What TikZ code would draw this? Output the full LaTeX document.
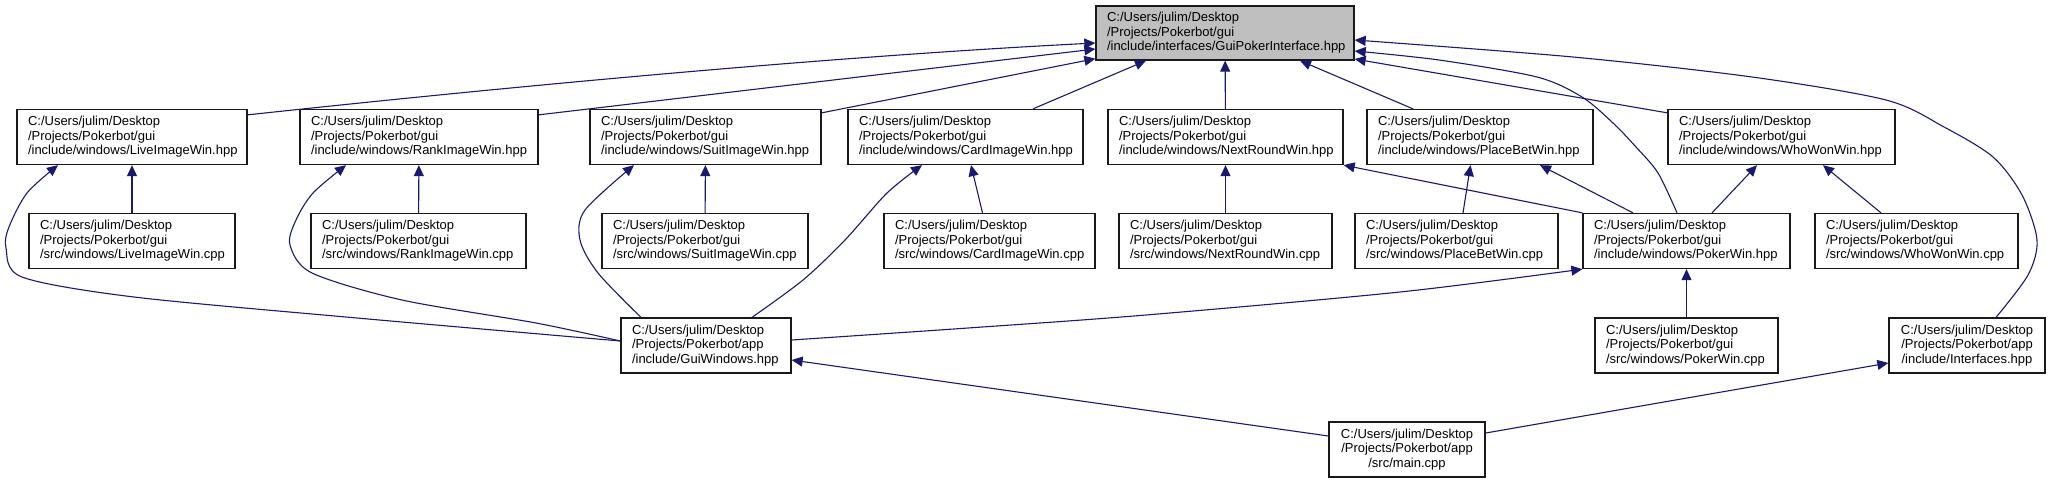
\documentclass[tikz,border=0pt]{standalone}
\usepackage{fontspec}
\setmainfont{Liberation Sans}
\usetikzlibrary{arrows.meta,calc}
\definecolor{edgecol}{RGB}{25,25,112}
\definecolor{hdrfill}{RGB}{191,191,191}
\begin{document}
\begin{tikzpicture}[x=0.5pt,y=-0.5pt,
  box/.style={draw=black!90, line width=0.65pt, fill=white, font=\fontsize{6.5}{7.25}\selectfont, align=left, inner xsep=5.5pt, inner ysep=0pt, minimum height=27.5pt},
  cbox/.style={box, align=center},
  edge/.style={draw=edgecol, line width=0.55pt, -{Triangle[length=5.5pt,width=5pt]}}]
\useasboundingbox (0,0) rectangle (2050,483);

% row 0
\node[box, text width=118pt, fill=hdrfill, minimum height=27pt] (gpi) at (1225,33) {C:/Users/julim/Desktop\\/Projects/Pokerbot/gui\\/include/interfaces/GuiPokerInterface.hpp};
% row 1
\node[box, text width=104pt] (live) at (132,137) {C:/Users/julim/Desktop\\/Projects/Pokerbot/gui\\/include/windows/LiveImageWin.hpp};
\node[box, text width=108pt] (rank) at (419,137) {C:/Users/julim/Desktop\\/Projects/Pokerbot/gui\\/include/windows/RankImageWin.hpp};
\node[box, text width=104.5pt] (suit) at (705.5,137) {C:/Users/julim/Desktop\\/Projects/Pokerbot/gui\\/include/windows/SuitImageWin.hpp};
\node[box, text width=106.5pt] (card) at (965.5,137) {C:/Users/julim/Desktop\\/Projects/Pokerbot/gui\\/include/windows/CardImageWin.hpp};
\node[box, text width=106.5pt] (next) at (1225.5,137) {C:/Users/julim/Desktop\\/Projects/Pokerbot/gui\\/include/windows/NextRoundWin.hpp};
\node[box, text width=102pt] (place) at (1480,137) {C:/Users/julim/Desktop\\/Projects/Pokerbot/gui\\/include/windows/PlaceBetWin.hpp};
\node[box, text width=102.5pt] (who) at (1781.5,137) {C:/Users/julim/Desktop\\/Projects/Pokerbot/gui\\/include/windows/WhoWonWin.hpp};
% row 2
\node[box, text width=92pt] (livecpp) at (132,241) {C:/Users/julim/Desktop\\/Projects/Pokerbot/gui\\/src/windows/LiveImageWin.cpp};
\node[box, text width=96.5pt] (rankcpp) at (418.5,241) {C:/Users/julim/Desktop\\/Projects/Pokerbot/gui\\/src/windows/RankImageWin.cpp};
\node[box, text width=92pt] (suitcpp) at (705,241) {C:/Users/julim/Desktop\\/Projects/Pokerbot/gui\\/src/windows/SuitImageWin.cpp};
\node[box, text width=94.5pt] (cardcpp) at (989.5,241) {C:/Users/julim/Desktop\\/Projects/Pokerbot/gui\\/src/windows/CardImageWin.cpp};
\node[box, text width=95.5pt] (nextcpp) at (1225.5,241) {C:/Users/julim/Desktop\\/Projects/Pokerbot/gui\\/src/windows/NextRoundWin.cpp};
\node[box, text width=90.5pt] (placecpp) at (1456.5,241) {C:/Users/julim/Desktop\\/Projects/Pokerbot/gui\\/src/windows/PlaceBetWin.cpp};
\node[box, text width=92.5pt] (poker) at (1686.5,241) {C:/Users/julim/Desktop\\/Projects/Pokerbot/gui\\/include/windows/PokerWin.hpp};
\node[box, text width=90.5pt] (whocpp) at (1916.5,241) {C:/Users/julim/Desktop\\/Projects/Pokerbot/gui\\/src/windows/WhoWonWin.cpp};
% row 3
\node[box, text width=74pt] (gui) at (706,345.5) {C:/Users/julim/Desktop\\/Projects/Pokerbot/app\\/include/GuiWindows.hpp};
\node[box, text width=80.5pt] (pokercpp) at (1686.5,345.5) {C:/Users/julim/Desktop\\/Projects/Pokerbot/gui\\/src/windows/PokerWin.cpp};
\node[cbox, text width=67pt] (ifaces) at (1967,345.5) {C:/Users/julim/Desktop\\/Projects/Pokerbot/app\\/include/Interfaces.hpp};
% row 4
\node[cbox, text width=67pt] (main) at (1407,449.5) {C:/Users/julim/Desktop\\/Projects/Pokerbot/app\\/src/main.cpp};

% anchor coordinates
\coordinate (gW1) at ($(gpi.west)+(0,10)$);
\coordinate (gW2) at ($(gpi.west)+(0,16)$);
\coordinate (gW3) at ($(gpi.south west)+(0,-2)$);
\coordinate (gE1) at ($(gpi.east)+(0,7)$);
\coordinate (gE2) at ($(gpi.east)+(0,18)$);
\coordinate (gE3) at ($(gpi.east)+(0,26)$);
\coordinate (liveNE) at ($(live.north east)+(0,6)$);
\coordinate (rankNE) at ($(rank.north east)+(0,6)$);
\coordinate (suitNE) at ($(suit.north east)+(0,4)$);
\coordinate (whoNW) at ($(who.north west)+(0,4)$);
\coordinate (guiW) at ($(gui.west)+(0,-4.5)$);
\coordinate (guiNa) at ($(gui.north)+(-65,0)$);
\coordinate (guiNb) at ($(gui.north)+(46,0)$);
\coordinate (guiE1) at ($(gui.east)+(0,-5.5)$);
\coordinate (guiE2) at ($(gui.east)+(0,14.5)$);
\coordinate (liveS) at ($(live.south)+(-74,0)$);
\coordinate (rankS) at ($(rank.south)+(-73,0)$);
\coordinate (suitS) at ($(suit.south)+(-71.5,0)$);
\coordinate (cardS) at ($(card.south)+(-43.5,0)$);
\coordinate (pokerN) at ($(poker.north)+(-9.5,0)$);
\coordinate (ifacesN) at ($(ifaces.north)+(29,0)$);

% edges to GuiPokerInterface
\draw[edge] (liveNE) .. controls (450,93) and (800,58) .. (gW1);
\draw[edge] (rankNE) -- (gW2);
\draw[edge] (suitNE) -- (gW3);
\draw[edge] ($(card.north)+(67.5,0)$) -- ($(gpi.south)+(-79,0)$);
\draw[edge] (next) -- (gpi);
\draw[edge] ($(place.north)+(-67,0)$) -- ($(gpi.south)+(75,0)$);
\draw[edge] (whoNW) -- (gE3);
\draw[edge] plot[smooth] coordinates {(pokerN) (1658,173) (1636,147) (1613,123) (1582,97) (1537,77) (1439,60) (gE2)};
\draw[edge] plot[smooth] coordinates {(ifacesN) (2028,275) (2037,240) (2022,195) (1993,157) (1944,127) (1886,100) (1752,77) (1573,57) (gE1)};

% row 1 <- row 2
\draw[edge] (livecpp) -- (live);
\draw[edge] (rankcpp) -- (rank);
\draw[edge] (suitcpp) -- (suit);
\draw[edge] ($(cardcpp.north)+(-7,0)$) -- ($(card.south)+(5.5,0)$);
\draw[edge] (nextcpp) -- (next);
\draw[edge] ($(placecpp.north)+(6.5,0)$) -- ($(place.south)+(-9.5,0)$);
\draw[edge] (poker.north west) -- (next.south east);
\draw[edge] ($(poker.north)+(-53.5,0)$) -- ($(place.south)+(60,0)$);
\draw[edge] ($(poker.north)+(25.5,0)$) -- ($(who.south)+(-24.5,0)$);
\draw[edge] ($(whocpp.north)+(-35.5,0)$) -- ($(who.south)+(41.5,0)$);

% GuiWindows edges
\draw[edge] plot[smooth] coordinates {(guiW) (357,318) (134,297) (22,277) (6,248) (9,227) (27,193) (liveS)};
\draw[edge] plot[smooth] coordinates {(guiW) (536,323) (402,300) (312,273) (290,245) (296,220) (313,193) (rankS)};
\draw[edge] plot[smooth] coordinates {(guiNa) (598,273) (580,240) (585,210) (suitS)};
\draw[edge] plot[smooth] coordinates {(guiNb) (803,280) (845,240) (887,193) (cardS)};
\draw[edge] plot[smooth] coordinates {(guiE1) (968,328) (1146,315) (1400,292) (poker.south west)};
\draw[edge] (pokercpp) -- (poker);

% main.cpp edges
\draw[edge] ($(main.west)+(0,-13.5)$) -- (guiE2);
\draw[edge] ($(main.east)+(0,-16.5)$) -- ($(ifaces.west)+(0,17.5)$);
\end{tikzpicture}
\end{document}
